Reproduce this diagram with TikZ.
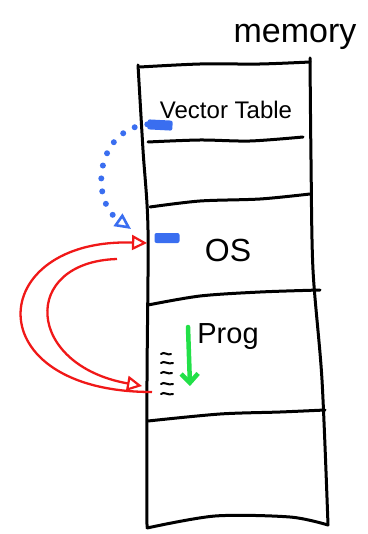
\documentclass[tikz,border=0pt]{standalone}
\usepackage{fontspec}
\setmainfont{Liberation Sans}
\usetikzlibrary{calc}
\usetikzlibrary{arrows.meta}
\usetikzlibrary{positioning}
\definecolor{penblue}{HTML}{3A6EF0}
\definecolor{penred}{HTML}{F01818}
\definecolor{pengreen}{HTML}{22E048}
\tikzstyle{pen} = [line width=3pt, line cap=round, line join=round]
\tikzstyle{hand} = [inner sep=0pt, anchor=base]
\tikzstyle{bluedash} = [fill=penblue, rounded corners=2pt, minimum width=25pt,
    minimum height=10pt, inner sep=0pt]
\tikzstyle{bluelink} = [penblue, line width=6pt, line cap=round,
    dash pattern=on 0pt off 13pt,
    -{Triangle[open, length=16pt, width=15pt, line width=2.6pt]}]
\tikzstyle{redlink} = [penred, line width=2.3pt,
    -{Triangle[open, length=15pt, width=15pt, line width=2.2pt]}]
\tikzstyle{greenarrow} = [pengreen, line width=4.5pt, line cap=round,
    -{Straight Barb[length=9pt, width=17pt, line width=4.5pt]}]

\begin{document}
\begin{tikzpicture}[x=1pt, y=-1pt]
    \useasboundingbox (0,0) rectangle (367,534);
    % the memory column, drawn a bit shaky
    \draw[pen] plot[smooth] coordinates {(138,65) (143,150) (148,230) (147,380) (147,527)};
    \draw[pen] plot[smooth] coordinates {(310,58) (311,160) (313,270) (322,380) (328,525)};
    \draw[pen] plot[smooth] coordinates {(140,67) (200,64) (260,64) (310,62)};
    \draw[pen] plot[smooth] coordinates {(148,142) (200,140) (250,141) (303,137)};
    \draw[pen] plot[smooth] coordinates {(150,207) (200,201) (260,199) (310,194)};
    \draw[pen] plot[smooth] coordinates {(148,305) (200,296) (260,292) (320,290)};
    \draw[pen] plot[smooth] coordinates {(148,421) (220,414) (280,412) (325,410)};
    \draw[pen] plot[smooth] coordinates {(147,528) (215,516) (290,517) (328,525)};
    % texts
    \node[hand, font=\fontsize{34}{34}\selectfont] (title) at (295,43) {memory};
    \node[hand, font=\fontsize{24}{24}\selectfont] (vectab) at (226,119) {Vector Table};
    \node[hand, font=\fontsize{32}{32}\selectfont] (os) at (228,261) {OS};
    \node[hand, font=\fontsize{29}{29}\selectfont] (prog) at (228,343) {Prog};
    % entry marks
    \node[bluedash, rotate=-3] (vtmark) at (160,125) {};
    \node[bluedash] (osmark) at (167,238) {};
    \coordinate (osentry) at (131,229);
    \coordinate (osin) at (147,243);
    \coordinate (osout) at (117,259);
    \coordinate (progin) at (142,386);
    \coordinate (progout) at (152,392);
    % vector jumps to the OS
    \draw[bluelink] (vtmark.west) .. controls (95,130) and (90,200) .. (osentry);
    % call into the program and back
    \draw[redlink] (osout) .. controls (20,262) and (25,365) .. (progin);
    \draw[redlink] (progout) .. controls (-25,392) and (-15,238) .. (osin);
    % the stack of the program
    \foreach \y/\w in {354/10, 363/12, 373/11, 384/12, 394/12}
        \draw[line width=2pt, line cap=round] (161,\y) .. controls (164,\y-3) and (168,\y+2) .. (161+\w,\y);
    \coordinate (stacktop) at (188,327);
    \coordinate (stackend) at (190,386);
    \draw[greenarrow] (stacktop) -- (stackend);
\end{tikzpicture}
\end{document}
